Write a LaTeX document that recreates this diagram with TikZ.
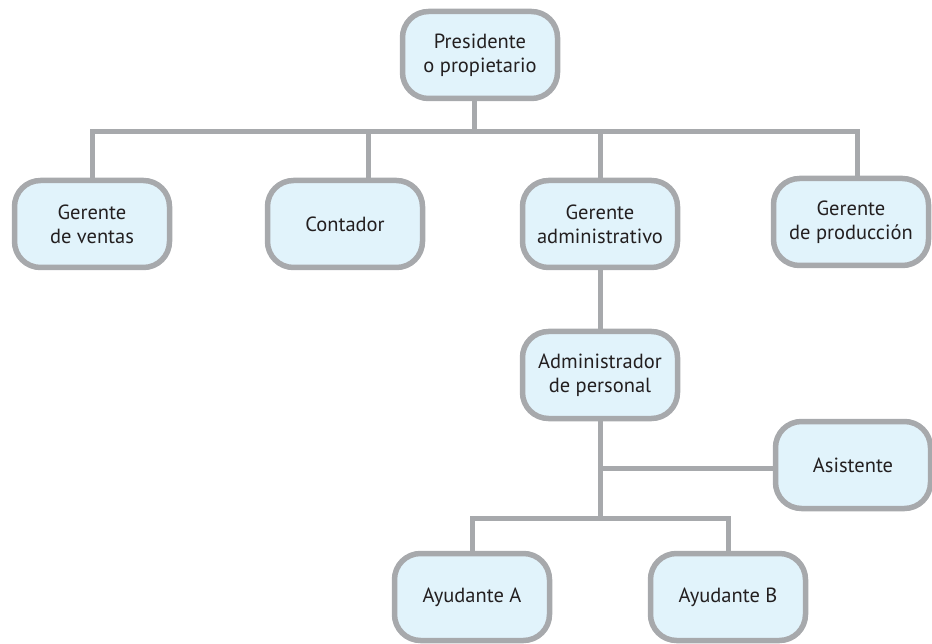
\documentclass[tikz,border=0pt]{standalone}
\usepackage{fontspec}
\setmainfont{PT Sans}
\usepackage{tikz}
\usetikzlibrary{backgrounds}

\definecolor{boxfill}{HTML}{E1F3FB}
\definecolor{boxline}{HTML}{A7A9AC}
\definecolor{boxtext}{HTML}{231F20}

\begin{document}
\begin{tikzpicture}[
        x=1pt, y=-1pt,                % pixel-like units, y down
        puesto/.style={
            rectangle,
            rounded corners=26pt,
            draw=boxline,
            fill=boxfill,
            line width=5.5pt,
            minimum width=155pt,
            minimum height=87pt,
            align=center,
            text=boxtext,
            font=\fontsize{20.5}{24}\selectfont
        },
        link/.style={draw=boxline, line width=5pt}
    ]
        \useasboundingbox (0,0) rectangle (932,644);

        % puestos
        \node[puesto] (pres)   at (480,55)  {Presidente\\o propietario};
        \node[puesto] (ventas) at (92,224)  {Gerente\\de ventas};
        \node[puesto] (cont)   at (345,224) {Contador};
        \node[puesto] (admin)  at (600,224) {Gerente\\administrativo};
        \node[puesto] (prod)   at (851,222) {Gerente\\de producción};
        \node[puesto] (pers)   at (600,375) {Administrador\\de personal};
        \node[puesto] (asis)   at (853,465) {Asistente};
        \node[puesto] (ayA)    at (472,597) {Ayudante A};
        \node[puesto] (ayB)    at (728,597) {Ayudante B};

        % puntos de unión
        \coordinate (top) at (474,132);
        \coordinate (mid) at (600,468);
        \coordinate (bot) at (600,518);

        % líneas
        \begin{pgfonlayer}{background}
        \draw[link] ([xshift=-6pt]pres.south) -- (top);
        \draw[link] (ventas.north) |- (top);
        \draw[link] ([xshift=23pt]cont.north) |- (top);
        \draw[link] (admin.north) |- (top);
        \draw[link] ([xshift=6pt]prod.north) |- (top);
        \draw[link] (admin.south) -- (pers.north);
        \draw[link] (pers.south) -- (bot);
        \draw[link] (asis.west |- mid) -- (mid);
        \draw[link] (ayA.north) |- (bot);
        \draw[link] (ayB.north) |- (bot);
        \end{pgfonlayer}
    \end{tikzpicture}
\end{document}
